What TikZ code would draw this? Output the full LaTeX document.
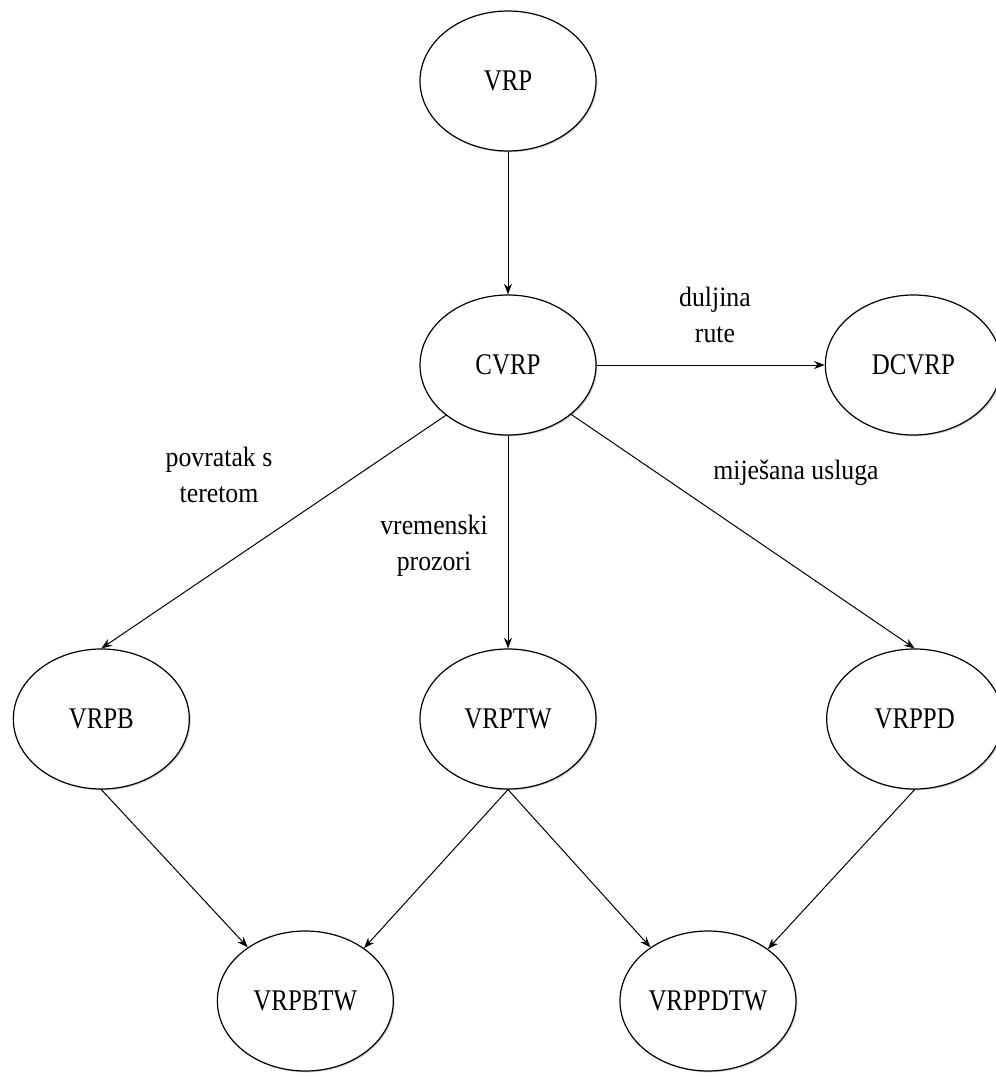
\documentclass[tikz,border=0pt]{standalone}
\usepackage{fontspec}
\setmainfont{Liberation Serif}
\newfontfamily\probfont{Liberation Serif}[FakeStretch=0.83]
\newfontfamily\labfont{Liberation Serif}[FakeStretch=0.92]
\usepackage{tikz}
\usetikzlibrary{shapes.geometric,arrows.meta,shadows,positioning}
\tikzstyle{problem} = [ellipse, draw, line width=0.9pt, fill=white, inner sep=0pt,
  minimum width=132pt, minimum height=105pt,
  drop shadow={shadow xshift=1pt, shadow yshift=-1pt, opacity=0.35},
  font=\probfont\fontsize{22.5}{27}\selectfont]
\tikzstyle{oznaka} = [align=center, inner sep=0pt, font=\labfont\fontsize{21}{27}\selectfont]

\begin{document}
\begin{tikzpicture}[x=0.75pt,y=-0.75pt,->,>={Stealth[length=8pt,width=6pt]},line width=0.75pt,node distance=213pt]
  \useasboundingbox (0,0) rectangle (995,1077);
  \node[problem] (VRP) at (508,81) {VRP};
  \node[problem] (CVRP) [below of=VRP] {CVRP};
  \node[problem] (DCVRP) [right of=CVRP, node distance=304pt] {DCVRP};
  \node[problem] (VRPTW) [below of=CVRP, node distance=265.5pt] {VRPTW};
  \node[problem] (VRPB) [left of=VRPTW, node distance=305pt] {VRPB};
  \node[problem] (VRPPD) [right of=VRPTW, node distance=305pt] {VRPPD};
  \node[problem] (VRPBTW) [below of=VRPTW, node distance=211.5pt, xshift=-152pt] {VRPBTW};
  \node[problem] (VRPPDTW) [below of=VRPTW, node distance=211.5pt, xshift=150pt] {VRPPDTW};

  \node[oznaka] (L_duljina) at (715,315) {duljina\\rute};
  \node[oznaka] (L_povratak) at (219,475) {povratak s\\teretom};
  \node[oznaka] (L_vremenski) at (434,546) {vremenski\\prozori};
  \node[oznaka] (L_mjesana) at (796,473) {miješana usluga};

  \path (VRP.south) edge (CVRP.north);
  \path (CVRP.east) edge (DCVRP.west);
  \path (CVRP.219) edge (VRPB.north);
  \path (CVRP.south) edge (VRPTW.north);
  \path (CVRP.322) edge (VRPPD.north);
  \path (VRPB.south) edge (VRPBTW.137);
  \path (VRPTW.south) edge (VRPBTW.42);
  \path (VRPTW.south) edge (VRPPDTW.137);
  \path (VRPPD.south) edge (VRPPDTW.41);
\end{tikzpicture}
\end{document}
